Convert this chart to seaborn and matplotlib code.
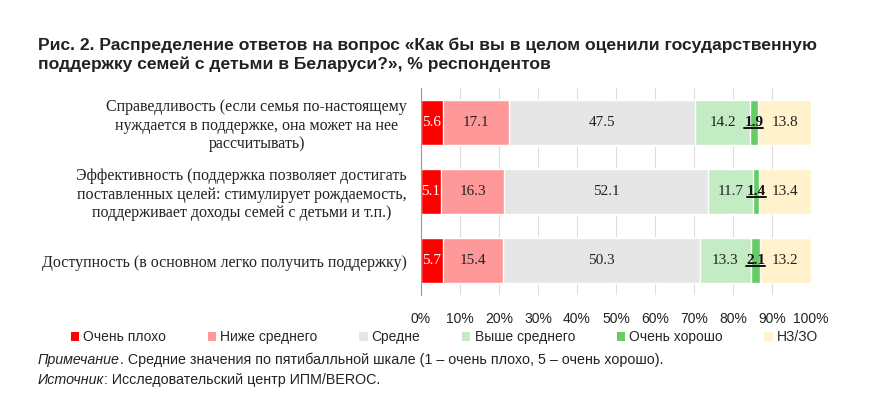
import numpy as np
import pandas as pd
import matplotlib
matplotlib.use("Agg")
import matplotlib.pyplot as plt
from matplotlib.patches import Patch
from matplotlib.lines import Line2D
import seaborn as sns

# data
categories = [
    "Справедливость (если семья по-настоящему\nнуждается в поддержке, она может на нее\nрассчитывать)",
    "Эффективность (поддержка позволяет достигать\nпоставленных целей: стимулирует рождаемость,\nподдерживает доходы семей с детьми и т.п.)",
    "Доступность (в основном легко получить поддержку)",
]
series_names = ["Очень плохо", "Ниже среднего", "Средне", "Выше среднего", "Очень хорошо", "НЗ/ЗО"]
very_bad = [5.6, 5.1, 5.7]
below_avg = [17.1, 16.3, 15.4]
average = [47.5, 52.1, 50.3]
above_avg = [14.2, 11.7, 13.3]
very_good = [1.9, 1.4, 2.1]
no_answer = [13.8, 13.4, 13.2]
colors = ["#FF0000", "#FF9999", "#E6E6E6", "#C4ECC4", "#66CC66", "#FFF2CC"]
x_ticks = [0, 10, 20, 30, 40, 50, 60, 70, 80, 90, 100]

title = ("Рис. 2. Распределение ответов на вопрос «Как бы вы в целом оценили государственную\n"
         "поддержку семей с детьми в Беларуси?», % респондентов")
note_it = "Примечание"
note_rest = ". Средние значения по пятибалльной шкале (1 – очень плохо, 5 – очень хорошо)."
src_it = "Источник"
src_rest = ": Исследовательский центр ИПМ/BEROC."

sns.set_theme(style="white")
sans = "Liberation Sans"
serif = "Liberation Serif"
plt.rcParams["font.family"] = [serif, "DejaVu Serif"]
txt = "#222222"

values = np.array([very_bad, below_avg, average, above_avg, very_good, no_answer])
cum = np.cumsum(values, axis=0)

df = pd.DataFrame({"category": categories})
for name, row in zip(series_names, cum):
    df[name] = row

fig = plt.figure(figsize=(8.75, 3.96), dpi=100)
ax = fig.add_axes([0.481, 0.255, 0.446, 0.523])

# stacked bars: draw cumulative totals from the last series backwards
for name, col in reversed(list(zip(series_names, colors))):
    sns.barplot(data=df, x=name, y="category", color=col, width=0.66,
                saturation=1, orient="h", ax=ax, zorder=2)

# value labels
underlined = []
for j, name in enumerate(series_names):
    for i in range(len(categories)):
        v = values[j, i]
        xc = cum[j, i] - v / 2
        if j == 0:
            ax.text(xc, i, f"{v:.1f}", ha="center", va="center", color="white", fontsize=11)
        elif j == 4:
            t = ax.text(xc, i, f"{v:.1f}", ha="center", va="center", color="#111111",
                        fontsize=11, fontweight="bold")
            underlined.append(t)
        else:
            ax.text(xc, i, f"{v:.1f}", ha="center", va="center", color=txt, fontsize=11)

ax.set_xlim(0, 100)
ax.set_ylim(2.5, -0.5)
ax.set_xticks(x_ticks)
ax.set_xticklabels([f"{t}%" for t in x_ticks], fontsize=10, family=sans, color=txt)
ax.set_yticks(range(len(categories)))
ax.set_yticklabels(categories, fontsize=11.5, multialignment="center", color=txt)
ax.tick_params(axis="y", length=0, pad=10)
ax.tick_params(axis="x", length=0, pad=12)
ax.set_yticks([0.5, 1.5], minor=True)
ax.tick_params(axis="y", which="minor", length=4, color="#999999", direction="out")
ax.set_xlabel("")
ax.set_ylabel("")
ax.grid(axis="x", color="#DDDDDD", linewidth=0.8, zorder=0)
ax.set_axisbelow(True)
for s in ["top", "right", "bottom"]:
    ax.spines[s].set_visible(False)
ax.spines["left"].set_color("#999999")
ax.spines["left"].set_linewidth(0.8)

handles = [Patch(facecolor=c, edgecolor="none") for c in colors]
fig.legend(handles, series_names, loc="center", bbox_to_anchor=(0.508, 0.148), ncol=6,
           frameon=False, handlelength=0.6, handleheight=0.6, handletextpad=0.3,
           columnspacing=3.0, prop={"family": sans, "size": 10})

fig.text(0.043, 0.905, title, fontsize=12.6, fontweight="bold", family=sans,
         color=txt, va="top", linespacing=1.3)

t1 = fig.text(0.043, 0.08, note_it, fontsize=10.3, style="italic", family=sans, color=txt)
t2 = fig.text(0.043, 0.03, src_it, fontsize=10.3, style="italic", family=sans, color=txt)
fig.canvas.draw()
W, H = fig.bbox.width, fig.bbox.height
fig.text(t1.get_window_extent().x1 / W, 0.08, note_rest, fontsize=10.3, family=sans, color=txt)
fig.text(t2.get_window_extent().x1 / W, 0.03, src_rest, fontsize=10.3, family=sans, color=txt)

# underline the "very good" labels
for t in underlined:
    bb = t.get_window_extent()
    y = (bb.y0 + 1) / H
    fig.add_artist(Line2D([bb.x0 / W, bb.x1 / W], [y, y], color="#111111", linewidth=1.4))

fig.savefig("out.png", dpi=100)
